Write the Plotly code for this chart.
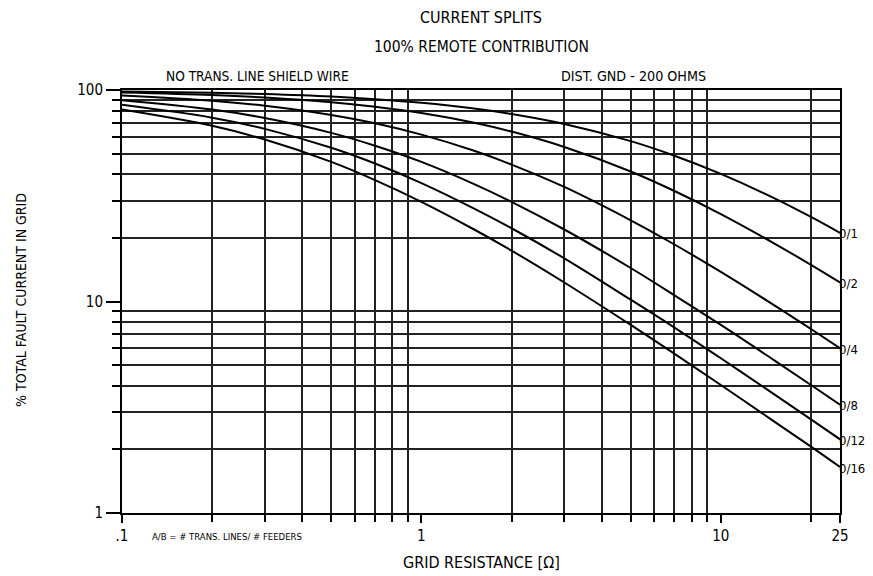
import math
import plotly.graph_objects as go

# ---- data ----
grid_resistance = [0.1, 0.2, 0.3, 0.5, 0.7, 1, 1.5, 2, 3, 5, 7, 10, 15, 20, 25]

split_0_1 = [98.5, 97.1, 95.7, 93.1, 90.5, 87.0, 81.7, 77.0, 69.1, 57.3, 48.9, 40.1, 30.9, 25.1, 21.1]
split_0_2 = [97.2, 94.6, 92.1, 87.5, 83.3, 77.8, 70.0, 63.6, 53.8, 41.2, 33.3, 25.9, 18.9, 14.9, 12.3]
split_0_4 = [94.1, 88.9, 84.2, 76.2, 69.6, 61.5, 51.6, 44.4, 34.8, 24.2, 18.6, 13.8, 9.64, 7.41, 6.02]
split_0_8 = [89.4, 80.8, 73.7, 62.7, 54.5, 45.7, 35.9, 29.6, 21.9, 14.4, 10.7, 7.75, 5.30, 4.03, 3.25]
split_0_12 = [85.1, 74.0, 65.5, 53.3, 44.9, 36.3, 27.5, 22.2, 16.0, 10.2, 7.53, 5.39, 3.66, 2.77, 2.23]
split_0_16 = [80.8, 67.7, 58.3, 45.7, 37.5, 29.6, 21.9, 17.4, 12.3, 7.75, 5.66, 4.03, 2.72, 2.06, 1.65]

series_names = ["0/1", "0/2", "0/4", "0/8", "0/12", "0/16"]
series_values = [split_0_1, split_0_2, split_0_4, split_0_8, split_0_12, split_0_16]

x_major_vals = [0.1, 1, 10, 25]
x_major_text = [".1", "1", "10", "25"]
x_minor_vals = [0.2, 0.3, 0.4, 0.5, 0.6, 0.7, 0.8, 0.9, 2, 3, 4, 5, 6, 7, 8, 9, 20]
y_major_vals = [1, 10, 100]
y_major_text = ["1", "10", "100"]
y_minor_vals = [2, 3, 4, 5, 6, 7, 8, 9, 20, 30, 40, 50, 60, 70, 80, 90]

FONT = "Liberation Sans Narrow, DejaVu Sans Condensed, Arial Narrow, sans-serif"

fig = go.Figure()
for name, vals in zip(series_names, series_values):
    fig.add_trace(go.Scatter(
        x=grid_resistance, y=vals, mode="lines", name=name,
        line=dict(color="black", width=2, shape="spline"),
        showlegend=False, hoverinfo="x+y+name",
    ))
    # annotation positions on a log axis are given in log10 units
    fig.add_annotation(x=1, y=math.log10(vals[-1]), xref="paper", yref="y", yshift=-1,
                       text=name, showarrow=False, xanchor="left", yanchor="middle",
                       xshift=-2, borderpad=0,
                       font=dict(family=FONT, size=13, color="black"))

fig.update_xaxes(
    type="log", range=[-1, 1.39794],
    tickvals=x_major_vals, ticktext=x_major_text,
    ticks="outside", ticklen=8, tickwidth=1.5, tickcolor="black",
    showgrid=False, zeroline=False,
    showline=True, linecolor="black", linewidth=2, mirror=True,
    tickfont=dict(family=FONT, size=15, color="black"),
    minor=dict(tickvals=x_minor_vals, ticks="outside", ticklen=7, tickwidth=1.5,
               tickcolor="black", showgrid=True, gridcolor="#222", gridwidth=1.5),
)
fig.update_yaxes(
    type="log", range=[0, 2],
    tickvals=y_major_vals, ticktext=y_major_text,
    ticks="outside", ticklen=14, tickwidth=1.5, tickcolor="black",
    showgrid=False, zeroline=False,
    showline=True, linecolor="black", linewidth=2, mirror=True,
    tickfont=dict(family=FONT, size=15, color="black"),
    minor=dict(tickvals=y_minor_vals, ticks="outside", ticklen=8, tickwidth=1.5,
               tickcolor="black", showgrid=True, gridcolor="#222", gridwidth=1.5),
)

texts = [
    ("CURRENT SPLITS", 0.5, 1.171, "center", 16),
    ("100% REMOTE CONTRIBUTION", 0.5, 1.1005, "center", 15.5),
    ("NO TRANS. LINE SHIELD WIRE", 0.189, 1.033, "center", 13.6),
    ("DIST. GND - 200 OHMS", 0.713, 1.033, "center", 14.2),
    ("GRID RESISTANCE [Ω]", 0.501, -0.118, "center", 16),
]
for t, x, y, xa, s in texts:
    fig.add_annotation(text=t, x=x, y=y, xref="paper", yref="paper", showarrow=False,
                       xanchor=xa, yanchor="middle", font=dict(family=FONT, size=s, color="black"))

fig.add_annotation(text="A/B = # TRANS. LINES/ # FEEDERS", x=0.039, y=-0.0567,
                   xref="paper", yref="paper", showarrow=False, xanchor="left", yanchor="middle",
                   font=dict(family=FONT, size=9.5, color="black"))
fig.add_annotation(text="% TOTAL FAULT CURRENT IN GRID", x=-0.1407, y=0.5035,
                   xref="paper", yref="paper", showarrow=False, textangle=-90,
                   xanchor="center", yanchor="middle",
                   font=dict(family=FONT, size=14, color="black"))

fig.update_layout(
    width=865, height=568,
    margin=dict(l=114, r=33, t=82, b=63),
    paper_bgcolor="white", plot_bgcolor="white",
    font=dict(family=FONT, color="black"),
)

fig.write_html("out.html")
